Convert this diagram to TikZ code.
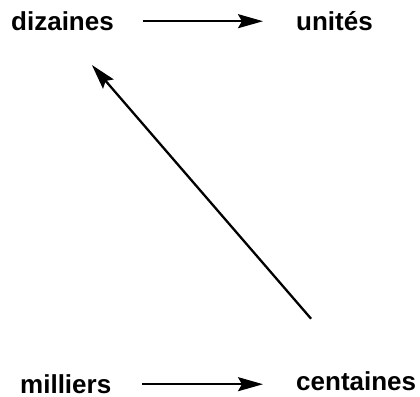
\documentclass[tikz,border=0pt]{standalone}
\usepackage{fontspec}
\setmainfont{Liberation Sans}
\usetikzlibrary{arrows.meta}
\tikzset{
  mot/.style={anchor=base west,inner sep=0pt,font=\fontsize{26}{30}\selectfont\bfseries},
  fleche/.style={-{Stealth[length=25pt,width=14pt,inset=4pt]},line width=2.3pt}
}
\begin{document}
\begin{tikzpicture}[x=1pt,y=-1pt]
\useasboundingbox (0,0) rectangle (420,396);
\node[mot] (diz) at (11,30.5) {dizaines};
\node[mot] (uni) at (296,30.5) {unités};
\node[mot] (mil) at (20,393.5) {milliers};
\node[mot] (cen) at (296,390) {centaines};

\draw[fleche,shorten <=29pt,shorten >=33pt] (diz.east) -- (diz.east -| uni.west);
\draw[fleche,shorten <=31pt,shorten >=33pt] (mil.east) -- (mil.east -| cen.west);
\draw[fleche,shorten <=69pt,shorten >=45pt] (cen.north) -- (diz.south);

\end{tikzpicture}
\end{document}
